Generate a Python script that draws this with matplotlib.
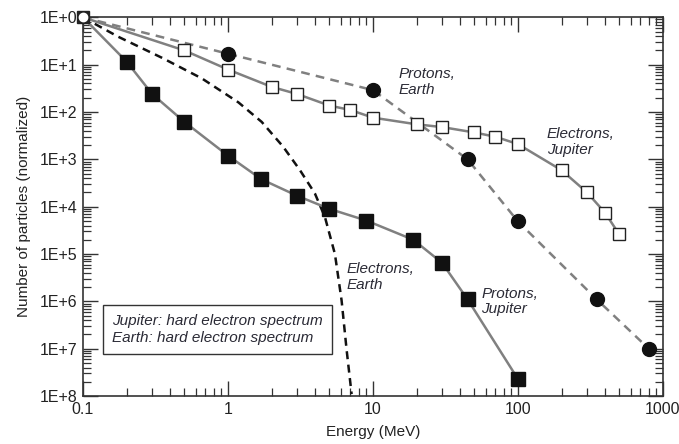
import numpy as np
import matplotlib
matplotlib.use("Agg")
import matplotlib.pyplot as plt
from matplotlib.ticker import FixedLocator, FixedFormatter, LogLocator, NullFormatter

plt.rcParams['font.family'] = ['Liberation Sans', 'DejaVu Sans']

# Electrons, Jupiter (open squares)
e_jup_E = [0.1, 0.5, 1, 2, 3, 5, 7, 10, 20, 30, 50, 70, 100, 200, 300, 400, 500]
e_jup_N = [1, 0.20, 0.079, 0.034, 0.024, 0.0137, 0.011, 0.0076, 0.0055, 0.0048,
           0.0037, 0.0030, 0.0021, 5.9e-4, 2.0e-4, 7.4e-5, 2.6e-5]

# Protons, Earth (filled circles, dashed)
p_earth_E = [0.1, 1, 10, 45, 100, 350, 800]
p_earth_N = [1, 0.17, 0.029, 1.0e-3, 4.9e-5, 1.1e-6, 1.0e-7]

# Protons, Jupiter (filled squares)
p_jup_E = [0.1, 0.2, 0.3, 0.5, 1, 1.7, 3, 5, 9, 19, 30, 45, 100]
p_jup_N = [1, 0.116, 0.024, 0.0062, 0.0012, 3.8e-4, 1.7e-4, 9.0e-5, 5.1e-5,
           2.0e-5, 6.5e-6, 1.1e-6, 2.3e-8]

# Electrons, Earth (black dashed curve)
e_earth_E = [0.1, 0.175, 0.35, 0.66, 1.18, 1.71, 2.4, 3.14, 3.98, 4.67, 5.47,
             6.08, 6.59, 7.13]
e_earth_N = [1, 0.389, 0.14, 0.0513, 0.0160, 0.00617, 0.00186, 5.9e-4, 1.9e-4,
             6.0e-5, 1.0e-5, 1.05e-6, 9.3e-8, 1.1e-8]

ytick_vals = [1e0, 1e-1, 1e-2, 1e-3, 1e-4, 1e-5, 1e-6, 1e-7, 1e-8]
ytick_labels = ['1E+0', '1E+1', '1E+2', '1E+3', '1E+4', '1E+5', '1E+6', '1E+7', '1E+8']
xtick_vals = [0.1, 1, 10, 100, 1000]
xtick_labels = ['0.1', '1', '10', '100', '1000']

fig = plt.figure(figsize=(6.79, 4.44), dpi=100)
ax = fig.add_axes([0.1222, 0.108, 0.854, 0.853])

gray = '#808080'
ax.plot(e_earth_E, e_earth_N, color='#111111', lw=1.8, ls=(0, (3.2, 2.2)))
ax.plot(p_earth_E, p_earth_N, color=gray, lw=1.8, ls=(0, (3.5, 2.5)))
ax.plot(e_jup_E, e_jup_N, color=gray, lw=1.8)
ax.plot(p_jup_E, p_jup_N, color=gray, lw=1.8)

ax.plot(p_earth_E[1:], p_earth_N[1:], ls='none', marker='o', ms=10,
        mfc='#111111', mec='#111111')
ax.plot(e_jup_E[1:], e_jup_N[1:], ls='none', marker='s', ms=9,
        mfc='white', mec='#222222', mew=1.0)
ax.plot(p_jup_E[1:], p_jup_N[1:], ls='none', marker='s', ms=9.5,
        mfc='#111111', mec='#111111')
ax.plot([0.1], [1], ls='none', marker='s', ms=9, mfc='#222222', mec='#222222',
        clip_on=False, zorder=5)
ax.plot([0.1], [1], ls='none', marker='o', ms=6, mfc='white', mec='white',
        clip_on=False, zorder=6)

ax.set_xscale('log')
ax.set_yscale('log')
ax.set_xlim(0.1, 1000)
ax.set_ylim(1e-8, 1)

ax.xaxis.set_major_locator(FixedLocator(xtick_vals))
ax.xaxis.set_major_formatter(FixedFormatter(xtick_labels))
ax.xaxis.set_minor_locator(LogLocator(base=10, subs=np.arange(2, 10), numticks=20))
ax.xaxis.set_minor_formatter(NullFormatter())
ax.yaxis.set_major_locator(FixedLocator(ytick_vals))
ax.yaxis.set_major_formatter(FixedFormatter(ytick_labels))
ax.yaxis.set_minor_locator(LogLocator(base=10, subs=np.arange(2, 10), numticks=20))
ax.yaxis.set_minor_formatter(NullFormatter())

frame_c = '#333333'
for s in ax.spines.values():
    s.set_color(frame_c)
    s.set_linewidth(1.2)
ax.tick_params(which='both', direction='in', top=True, right=True, color=frame_c,
               labelsize=11.5, labelcolor='#222222')
ax.tick_params(which='major', length=11, width=1.0, pad=4)
ax.tick_params(which='minor', length=6, width=0.9)

ax.set_xlabel('Energy (MeV)', fontsize=11, color='#222222', labelpad=6)
ax.set_ylabel('Number of particles (normalized)', fontsize=11, color='#222222', labelpad=6)

tc = '#2a2a35'
ax.text(15, 10 ** -1.37, 'Protons,\nEarth', fontsize=11, style='italic', color=tc,
        ha='left', va='center', linespacing=1.15)
ax.text(158, 10 ** -2.64, 'Electrons,\nJupiter', fontsize=11, style='italic', color=tc,
        ha='left', va='center', linespacing=1.15)
ax.text(6.6, 10 ** -5.49, 'Electrons,\nEarth', fontsize=11, style='italic', color=tc,
        ha='left', va='center', linespacing=1.15)
ax.text(56, 10 ** -6.0, 'Protons,\nJupiter', fontsize=11, style='italic', color=tc,
        ha='left', va='center', linespacing=1.15)

ax.text(0.05, 0.1756, 'Jupiter: hard electron spectrum\nEarth: hard electron spectrum',
        transform=ax.transAxes, fontsize=11, style='italic', color=tc,
        ha='left', va='center', linespacing=1.2,
        bbox=dict(boxstyle='square,pad=0.6', fc='white', ec='#333333', lw=1.0))

fig.savefig('out.png', dpi=100)
